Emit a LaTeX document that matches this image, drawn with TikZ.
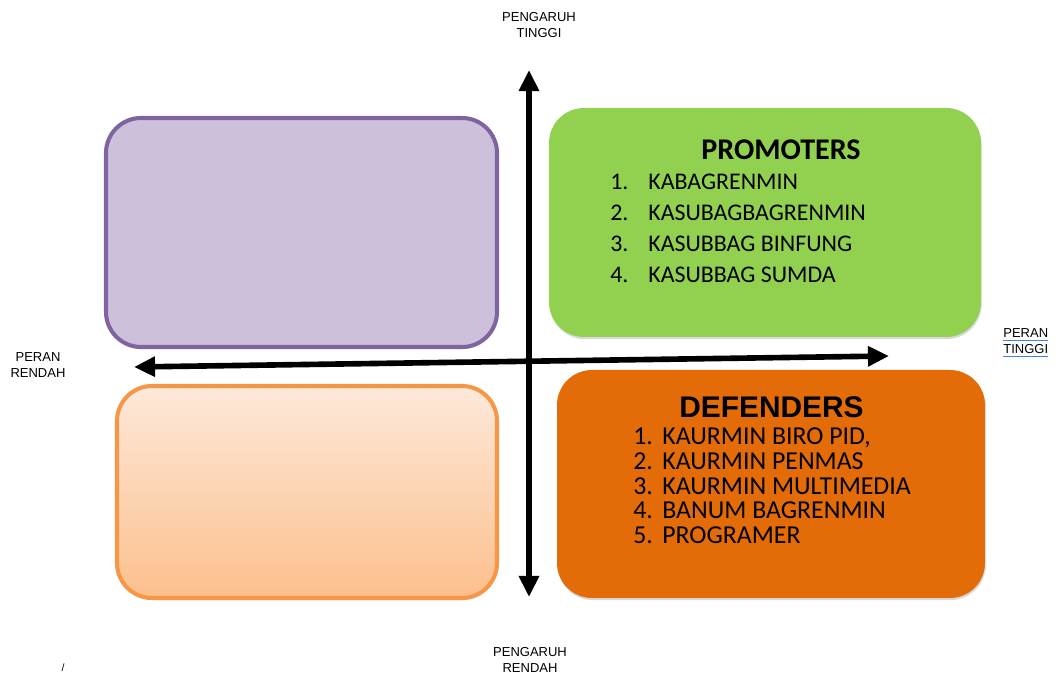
\documentclass[tikz,border=0pt]{standalone}
\usepackage{fontspec}
\setmainfont{Liberation Sans}
\newfontfamily\calibri{Carlito}
\usetikzlibrary{%
    arrows.meta,
    positioning,
    shadows
}
\definecolor{lilac}{HTML}{CCC0DA}
\definecolor{lilacedge}{HTML}{8064A2}
\definecolor{leafgreen}{HTML}{92D050}
\definecolor{peachtop}{HTML}{FDE9DA}
\definecolor{peachbottom}{HTML}{FCBF8C}
\definecolor{peachedge}{HTML}{F79646}
\definecolor{rust}{HTML}{E36C09}
\definecolor{linkblue}{HTML}{4A7FE0}
\newcommand\linkline[1]{\textcolor{linkblue}{\underline{\textcolor{black}{#1}}}}
\tikzset{
    quadbox/.style = {rounded corners=0.7cm, inner sep=0pt,
        drop shadow={opacity=0.3, shadow xshift=0.4pt, shadow yshift=-1.2pt}},
    axislabel/.style = {font=\fontsize{7.4}{9.1}\selectfont, align=center, inner sep=0pt},
    axisarrow/.style = {{Triangle[length=12pt,width=11pt]}-{Triangle[length=12pt,width=11pt]}, line width=3.2pt},
    listtext/.style = {inner sep=0pt, align=left, anchor=north west}
}

\begin{document}
\begin{tikzpicture}
    \useasboundingbox (0,0) rectangle (21.16,13.48);

    \node[quadbox, fill=lilac, draw=lilacedge, line width=2.3pt,
          minimum width=7.82cm, minimum height=4.58cm] (topleft) at (6.03,8.83) {};
    \node[quadbox, fill=leafgreen,
          minimum width=8.64cm, minimum height=4.58cm] (promoters) at (15.30,9.03) {};
    \node[quadbox, top color=peachtop, bottom color=peachbottom, draw=peachedge, line width=2.3pt,
          minimum width=7.60cm, minimum height=4.24cm] (bottomleft) at (6.14,3.64) {};
    \node[quadbox, fill=rust,
          minimum width=8.56cm, minimum height=4.56cm] (defenders) at (15.42,3.80) {};

    \node (promtitle) [anchor=base, font=\calibri\bfseries\fontsize{17.1}{20}\selectfont]
        at (15.62,10.28) {PROMOTERS};
    \node (promlist) [listtext, font=\calibri\fontsize{13.6}{17.6}\selectfont] at (12.20,10.0) {%
        \makebox[0.76cm][l]{1.}KABAGRENMIN\\
        \makebox[0.76cm][l]{2.}KASUBAGBAGRENMIN\\
        \makebox[0.76cm][l]{3.}KASUBBAG BINFUNG\\
        \makebox[0.76cm][l]{4.}KASUBBAG SUMDA};

    \node (deftitle) [anchor=base, font=\bfseries\fontsize{17}{20}\selectfont]
        at (15.43,5.12) {DEFENDERS};
    \node (deflist) [listtext, font=\calibri\fontsize{14.7}{14.2}\selectfont] at (12.66,4.94) {%
        \makebox[0.58cm][l]{1.}KAURMIN BIRO PID,\\
        \makebox[0.58cm][l]{2.}KAURMIN PENMAS\\
        \makebox[0.58cm][l]{3.}KAURMIN MULTIMEDIA\\
        \makebox[0.58cm][l]{4.}BANUM BAGRENMIN\\
        \makebox[0.58cm][l]{5.}PROGRAMER};

    \coordinate (up) at (10.58,12.08);
    \coordinate (down) at (10.58,1.54);
    \coordinate (left) at (2.68,6.14);
    \coordinate (right) at (17.78,6.36);
    \draw[axisarrow] (down) -- (up);
    \draw[axisarrow] (left) -- (right);

    \node[axislabel] (highinf) at (10.78,12.98) {PENGARUH\\TINGGI};
    \node[axislabel] (lowinf) at (10.60,0.28) {PENGARUH\\RENDAH};
    \node[axislabel] (lowrole) at (0.76,6.18) {PERAN\\RENDAH};
    \node[axislabel, align=left, anchor=west] (highrole) at (20.06,6.62)
        {\linkline{PERAN}\\\linkline{TINGGI}};
    \node[inner sep=0pt, font=\fontsize{6}{7}\selectfont] (slash) at (1.26,0.12) {/};
\end{tikzpicture}
\end{document}
